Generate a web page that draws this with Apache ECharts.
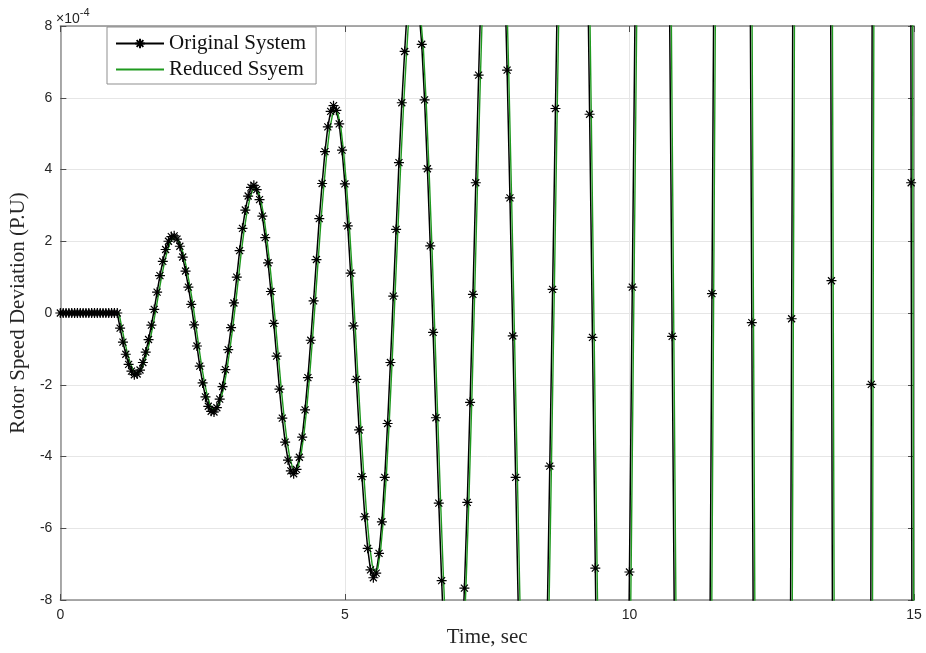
<!DOCTYPE html>
<html>
<head>
<meta charset="utf-8">
<script src="https://cdn.jsdelivr.net/npm/echarts/dist/echarts.min.js"></script>
<style>html,body{margin:0;padding:0;background:#fff}#chart{width:926px;height:653px}</style>
</head>
<body>
<div id="chart"></div>
<script>
// x axis ticks (s) and y axis ticks (x 1e-4 p.u.)
const xTicks = [0, 5, 10, 15];
const yTicks = [-8, -6, -4, -2, 0, 2, 4, 6, 8];
const seriesNames = ['Original System', 'Reduced Ssyem'];

// Original system: time (s)
const origTime = [
0,0.05,0.1,0.15,0.2,0.25,0.3,0.35,0.4,0.45,0.5,0.55,0.6,0.65,0.7,0.75,0.8,0.85,0.9,0.95,1.0,
1.05,1.1,1.15,1.2,1.25,1.3,1.35,1.4,1.45,1.5,1.55,1.6,1.65,1.7,1.75,1.8,1.85,1.9,1.95,2.0,
2.05,2.1,2.15,2.2,2.25,2.3,2.35,2.4,2.45,2.5,2.55,2.6,2.65,2.7,2.75,2.8,2.85,2.9,2.95,3.0,
3.05,3.1,3.15,3.2,3.25,3.3,3.35,3.4,3.45,3.5,3.55,3.6,3.65,3.7,3.75,3.8,3.85,3.9,3.95,4.0,
4.05,4.1,4.15,4.2,4.25,4.3,4.35,4.4,4.45,4.5,4.55,4.6,4.65,4.7,4.75,4.8,4.85,4.9,4.95,5.0,
5.05,5.1,5.15,5.2,5.25,5.3,5.35,5.4,5.45,5.5,5.55,5.6,5.65,5.7,5.75,5.8,5.85,5.9,5.95,6.0,
6.05,6.1,6.2,6.3,6.35,6.4,6.45,6.5,6.55,6.6,6.65,6.7,6.75,6.9,7.05,7.1,7.15,7.2,7.25,7.3,
7.35,7.4,7.6,7.8,7.85,7.9,7.95,8.0,8.05,8.3,8.55,8.6,8.65,8.7,8.75,9.0,9.25,9.3,9.35,9.4,
9.45,9.7,9.95,10.0,10.05,10.1,10.4,10.7,10.75,10.8,11.1,11.4,11.45,11.5,11.8,12.1,12.15,12.2,
12.5,12.8,12.85,12.9,13.2,13.5,13.55,13.6,13.9,14.2,14.25,14.3,14.6,14.9,14.95,15.0
];
// Original system: rotor speed deviation (x 1e-4 p.u.)
const origDev = [
0,0,0,0,0,0,0,0,0,0,0,0,0,0,0,0,0,0,0,0,0,
-0.42,-0.81,-1.15,-1.43,-1.62,-1.72,-1.70,-1.59,-1.38,-1.09,-0.74,-0.34,0.10,0.58,1.04,1.44,1.77,2.00,2.13,2.15,
2.06,1.86,1.56,1.17,0.72,0.24,-0.33,-0.92,-1.48,-1.95,-2.34,-2.60,-2.74,-2.76,-2.64,-2.40,-2.05,-1.58,-1.02,-0.41,
0.28,1.00,1.74,2.36,2.87,3.26,3.50,3.56,3.44,3.16,2.70,2.10,1.40,0.60,-0.29,-1.20,-2.12,-2.93,-3.60,-4.10,
-4.40,-4.48,-4.36,-4.02,-3.46,-2.70,-1.80,-0.76,0.34,1.49,2.63,3.61,4.50,5.19,5.62,5.78,5.65,5.27,4.54,3.60,
2.43,1.11,-0.36,-1.85,-3.26,-4.56,-5.68,-6.56,-7.16,-7.38,-7.25,-6.70,-5.82,-4.58,-3.08,-1.38,0.47,2.33,4.19,5.86,
7.29,8.60,9.45,8.45,7.49,5.94,4.02,1.87,-0.54,-2.92,-5.30,-7.46,-9.40,-12.0,-9.70,-7.67,-5.28,-2.49,0.52,3.63,
6.63,9.40,15.3,9.90,6.77,3.21,-0.64,-4.58,-8.50,-19.6,-9.00,-4.27,0.66,5.70,10.6,25.0,11.5,5.54,-0.68,-7.11,
-13.3,-32.0,-14.3,-7.22,0.72,8.70,41.0,9.60,-0.65,-11.0,-52.0,-12.9,0.54,13.9,67.0,16.7,-0.27,-17.3,
-86.0,-21.7,-0.16,21.7,110,28.8,0.90,-27.0,-141,-37.8,-1.99,33.8,180,48.3,3.63,-41.0
];

// Reduced system: time (s)
const redTime = [
0,1.03,
1.08,1.13,1.18,1.23,1.28,1.33,1.38,1.43,1.48,1.53,1.58,1.63,1.68,1.73,1.78,1.83,1.88,1.93,1.98,2.03,
2.08,2.13,2.18,2.23,2.28,2.33,2.38,2.43,2.48,2.53,2.58,2.63,2.68,2.73,2.78,2.83,2.88,2.93,2.98,3.03,
3.08,3.13,3.18,3.23,3.28,3.33,3.38,3.43,3.48,3.53,3.58,3.63,3.68,3.73,3.78,3.83,3.88,3.93,3.98,4.03,
4.08,4.13,4.18,4.23,4.28,4.33,4.38,4.43,4.48,4.53,4.58,4.63,4.68,4.73,4.78,4.83,4.88,4.93,4.98,5.03,
5.08,5.13,5.18,5.23,5.28,5.33,5.38,5.43,5.48,5.53,5.58,5.63,5.68,5.73,5.78,5.83,5.88,5.93,5.98,6.03,
6.08,6.13,6.23,6.33,6.38,6.43,6.48,6.53,6.58,6.63,6.68,6.73,6.78,6.93,7.08,7.13,7.18,7.23,7.28,7.33,
7.38,7.43,7.63,7.83,7.88,7.93,7.98,8.03,8.08,8.33,8.58,8.63,8.68,8.73,8.78,9.03,9.28,9.33,9.38,9.43,
9.48,9.73,9.98,10.03,10.08,10.13,10.43,10.73,10.78,10.83,11.13,11.43,11.48,11.53,11.83,12.13,12.18,12.23,
12.53,12.83,12.88,12.93,13.23,13.53,13.58,13.63,13.93,14.23,14.28,14.33,14.63,14.93,14.98,15.0
];
// Reduced system: rotor speed deviation (x 1e-4 p.u.)
const redDev = [
0,0,
-0.41,-0.79,-1.13,-1.40,-1.59,-1.69,-1.67,-1.56,-1.35,-1.07,-0.73,-0.33,0.10,0.57,1.02,1.41,1.73,1.96,2.09,2.11,
2.02,1.82,1.53,1.15,0.71,0.24,-0.32,-0.90,-1.45,-1.91,-2.29,-2.55,-2.69,-2.70,-2.59,-2.35,-2.01,-1.55,-1.00,-0.40,
0.27,0.98,1.71,2.31,2.81,3.19,3.43,3.49,3.37,3.10,2.65,2.06,1.37,0.59,-0.28,-1.18,-2.08,-2.87,-3.53,-4.02,
-4.31,-4.39,-4.27,-3.94,-3.39,-2.65,-1.76,-0.74,0.33,1.46,2.58,3.54,4.41,5.09,5.51,5.66,5.54,5.16,4.45,3.53,
2.38,1.09,-0.35,-1.81,-3.19,-4.47,-5.57,-6.43,-7.02,-7.23,-7.11,-6.57,-5.70,-4.49,-3.02,-1.35,0.46,2.28,4.11,5.74,
7.14,8.43,9.26,8.28,7.34,5.82,3.94,1.83,-0.53,-2.86,-5.19,-7.31,-9.21,-11.8,-9.51,-7.52,-5.17,-2.44,0.51,3.56,
6.50,9.21,15.0,9.70,6.63,3.15,-0.63,-4.49,-8.33,-19.2,-8.82,-4.18,0.65,5.59,10.4,24.5,11.3,5.43,-0.67,-6.97,
-13.0,-31.4,-14.0,-7.08,0.71,8.53,40.2,9.41,-0.64,-10.8,-51.0,-12.6,0.53,13.6,65.7,16.4,-0.26,-17.0,
-84.3,-21.3,-0.16,21.3,108,28.2,0.88,-26.5,-138,-37.0,-1.95,33.1,176,47.3,3.56,-13.7
];

const origData = origTime.map((t, i) => [t, origDev[i]]);
const redData = redTime.map((t, i) => [t, redDev[i]]);

const xMin = xTicks[0], xMax = xTicks[xTicks.length - 1], xStep = xTicks[1] - xTicks[0];
const yMin = yTicks[0], yMax = yTicks[yTicks.length - 1], yStep = yTicks[1] - yTicks[0];

const starPath = 'path://M5,0L5,10M0,5L10,5M1.5,1.5L8.5,8.5M1.5,8.5L8.5,1.5';
const axisGray = '#8f8f8f';
const tickStyle = { show: true, inside: true, length: 6, lineStyle: { color: '#4d4d4d', width: 1 } };
const labelFont = { color: '#262626', fontSize: 14, fontFamily: 'Liberation Sans, Arial, sans-serif' };
const serif = 'Liberation Serif, Times New Roman, serif';

const chart = echarts.init(document.getElementById('chart'), null, { renderer: 'canvas' });
chart.setOption({
  animation: false,
  backgroundColor: '#ffffff',
  grid: { left: 57, right: 12, top: 26, bottom: 53, containLabel: false },
  xAxis: [
    { type: 'value', position: 'bottom', min: xMin, max: xMax, interval: xStep,
      axisLine: { show: true, onZero: false, lineStyle: { color: axisGray, width: 1.5 } },
      axisTick: tickStyle, axisLabel: Object.assign({ margin: 8 }, labelFont),
      splitLine: { show: true, lineStyle: { color: '#e6e6e6', width: 1 } },
      name: 'Time, sec', nameLocation: 'middle', nameGap: 25,
      nameTextStyle: { fontFamily: serif, fontSize: 21, color: '#262626' } },
    { type: 'value', position: 'top', min: xMin, max: xMax, interval: xStep,
      axisLine: { show: true, onZero: false, lineStyle: { color: axisGray, width: 1.5 } },
      axisTick: tickStyle, axisLabel: { show: false }, splitLine: { show: false } }
  ],
  yAxis: [
    { type: 'value', position: 'left', min: yMin, max: yMax, interval: yStep,
      axisLine: { show: true, onZero: false, lineStyle: { color: axisGray, width: 1.5 } },
      axisTick: tickStyle, axisLabel: Object.assign({ margin: 8 }, labelFont),
      splitLine: { show: true, lineStyle: { color: '#e6e6e6', width: 1 } },
      name: 'Rotor Speed Deviation (P.U)', nameLocation: 'middle', nameGap: 29,
      nameTextStyle: { fontFamily: serif, fontSize: 21, color: '#262626' } },
    { type: 'value', position: 'right', min: yMin, max: yMax, interval: yStep,
      axisLine: { show: true, onZero: false, lineStyle: { color: axisGray, width: 1.5 } },
      axisTick: tickStyle, axisLabel: { show: false }, splitLine: { show: false } }
  ],
  legend: {
    left: 107, top: 27, orient: 'vertical',
    backgroundColor: '#ffffff', borderColor: '#8f8f8f', borderWidth: 1, borderRadius: 0,
    padding: [6, 10, 4, 8], itemGap: 5, itemWidth: 48, itemHeight: 12,
    textStyle: { fontFamily: serif, fontSize: 21, color: '#111111' },
    data: [
      { name: seriesNames[0] },
      { name: seriesNames[1], itemStyle: { opacity: 0 } }
    ]
  },
  graphic: [{
    type: 'text', left: 56, top: 7,
    style: {
      text: '{a|×10}{b|-4}',
      rich: {
        a: { fontSize: 14, fontFamily: 'Liberation Sans, Arial, sans-serif', fill: '#262626', padding: [7, 0, 0, 0] },
        b: { fontSize: 11, fontFamily: 'Liberation Sans, Arial, sans-serif', fill: '#262626', padding: [0, 0, 7, 0] }
      }
    }
  }],
  series: [
    { name: seriesNames[0], type: 'line', xAxisIndex: 0, yAxisIndex: 0, data: origData,
      clip: true, showAllSymbol: true, symbol: starPath, symbolSize: 10,
      lineStyle: { color: '#000000', width: 1.5 },
      itemStyle: { color: '#000000', borderColor: '#000000', borderWidth: 1.2 },
      emphasis: { disabled: true } },
    { name: seriesNames[1], type: 'line', xAxisIndex: 0, yAxisIndex: 0, data: redData,
      clip: true, symbol: 'none', showSymbol: false,
      lineStyle: { color: '#1f9a1f', width: 1.4 },
      itemStyle: { color: '#1f9a1f' },
      emphasis: { disabled: true } }
  ]
});
</script>
</body>
</html>
